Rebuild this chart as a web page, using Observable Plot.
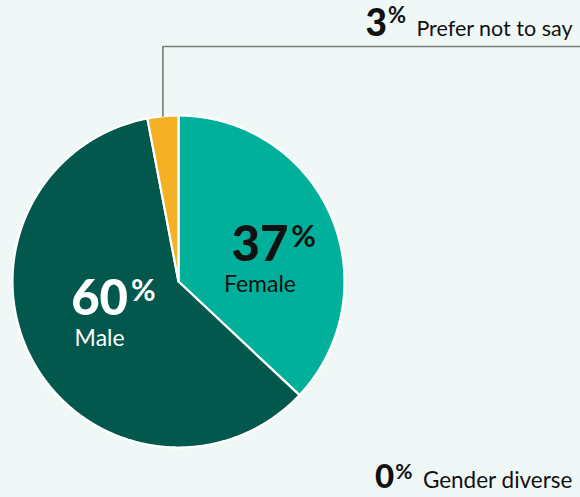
<!DOCTYPE html>
<html><head><meta charset="utf-8">
<script src="https://cdn.jsdelivr.net/npm/d3@7"></script>
<script src="https://cdn.jsdelivr.net/npm/@observablehq/plot@0.6"></script>
<style>
html,body{margin:0;padding:0;background:#eff8f7;}
#chart{width:580px;height:497px;overflow:hidden;}
</style></head><body><div id="chart"></div>
<script>
// ---- data ----
const categories = ["Female", "Male", "Prefer not to say", "Gender diverse"];
const values = [37, 60, 3, 0];
// ---- styles ----
const sliceColors = ["#00b09b", "#03584d", "#f5b125", "#f5b125"];
const insideTextColors = ["#111111", "#ffffff", "#111111", "#111111"];

// ---- layout ----
const W = 580, H = 497, CX = 178, CY = 281, R = 166;
const FONT = "Lato, 'Open Sans', sans-serif";
const leaderTopPx = 46;
const labelRadius = 0.51, labelAngleShift = 7.5 * Math.PI / 180;

const rows = categories.map((c, i) => ({category: c, value: values[i], color: sliceColors[i], text: insideTextColors[i]}));
const arcs = d3.pie().sort(null).value(d => d.value)(rows);

// slice polygons in unit-circle coordinates (0 at 12 o'clock, clockwise)
const polys = [];
arcs.forEach(a => {
  if (a.data.value <= 0) return;
  const n = Math.max(2, Math.ceil((a.endAngle - a.startAngle) / 0.005));
  polys.push({key: a.data.category, color: a.data.color, px: 0, py: 0});
  for (let k = 0; k <= n; k++) {
    const t = a.startAngle + (a.endAngle - a.startAngle) * k / n;
    polys.push({key: a.data.category, color: a.data.color, px: Math.sin(t), py: Math.cos(t)});
  }
  polys.push({key: a.data.category, color: a.data.color, px: 0, py: 0});
});

const ctx = document.createElement("canvas").getContext("2d");
function tw(text, font) { ctx.font = font; return ctx.measureText(text).width; }

const marks = [
  Plot.line(polys, {x: "px", y: "py", z: "key", fill: "color", stroke: "#ffffff", strokeWidth: 2.2, strokeLinejoin: "round"})
];

// inside labels for big slices
const inside = arcs.filter(a => a.data.value >= 10);
inside.forEach(a => {
  const mid = (a.startAngle + a.endAngle) / 2 + labelAngleShift;
  const d = {lx: labelRadius * Math.sin(mid), ly: labelRadius * Math.cos(mid), num: String(a.data.value), cat: a.data.category, tc: a.data.text};
  const numFont = `900 49px ${FONT}`;
  const wNum = tw(d.num, numFont);
  marks.push(
    Plot.text([d], {x: "lx", y: "ly", text: "num", fill: "tc", textAnchor: "middle", lineAnchor: "bottom", dy: 3, fontSize: 49, fontWeight: 900, fontFamily: FONT}),
    Plot.text([d], {x: "lx", y: "ly", text: () => "%", fill: "tc", textAnchor: "start", lineAnchor: "bottom", dx: wNum / 2 + 3, dy: -11, fontSize: 30, fontWeight: 700, fontFamily: FONT}),
    Plot.text([d], {x: "lx", y: "ly", text: "cat", fill: "tc", textAnchor: "middle", lineAnchor: "bottom", dy: 34, fontSize: 23, fontWeight: 400, fontFamily: FONT})
  );
});

// outside labels for small slices
const outside = arcs.filter(a => a.data.value < 10);
const outsideLayout = [
  {frameAnchor: "top-right", base: 35, numSize: 37, pctSize: 22, labSize: 21.5, pctRaise: 13, gap: 10},
  {frameAnchor: "bottom-right", base: -10, numSize: 33, pctSize: 21, labSize: 22.5, pctRaise: 9, gap: 10}
];
outside.forEach((a, i) => {
  const L = outsideLayout[i];
  const d = {num: String(a.data.value), cat: a.data.category};
  const wLab = tw(d.cat, `400 ${L.labSize}px ${FONT}`);
  const wPct = tw("%", `700 ${L.pctSize}px ${FONT}`);
  const endLab = -8, endPct = endLab - wLab - L.gap, endNum = endPct - wPct - 1;
  const common = {frameAnchor: L.frameAnchor, textAnchor: "end", lineAnchor: "bottom", fill: "#111111", fontFamily: FONT};
  marks.push(
    Plot.text([d], {...common, text: "cat", dx: endLab, dy: L.base, fontSize: L.labSize, fontWeight: 400}),
    Plot.text([d], {...common, text: () => "%", dx: endPct, dy: L.base - L.pctRaise, fontSize: L.pctSize, fontWeight: 700}),
    Plot.text([d], {...common, text: "num", dx: endNum, dy: L.base, fontSize: L.numSize, fontWeight: 900})
  );
  // leader line for the slice that sits at the top
  if (L.frameAnchor === "top-right" && a.data.value > 0) {
    const mid = (a.startAngle + a.endAngle) / 2;
    const yTop = (CY - leaderTopPx) / R, xRight = (W - CX) / R;
    const lead = [
      {px: Math.sin(mid), py: Math.cos(mid)},
      {px: Math.sin(mid), py: yTop},
      {px: xRight, py: yTop}
    ];
    marks.push(Plot.line(lead, {x: "px", y: "py", stroke: "#7a7a7a", strokeWidth: 1.6}));
  }
});

const chart = Plot.plot({
  width: W, height: H,
  margin: 0,
  x: {domain: [-CX / R, (W - CX) / R], axis: null},
  y: {domain: [-(H - CY) / R, CY / R], axis: null},
  color: {type: "identity"},
  style: {background: "#eff8f7", overflow: "visible"},
  marks
});
document.getElementById("chart").appendChild(chart);
</script>
</body></html>
